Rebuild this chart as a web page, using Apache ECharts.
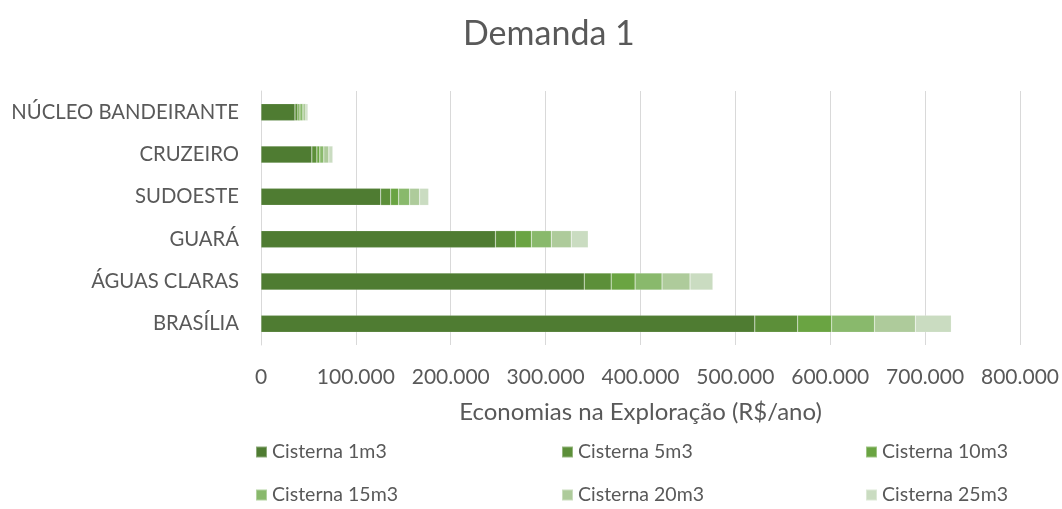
<!DOCTYPE html>
<html>
<head>
<meta charset="utf-8">
<script src="https://cdn.jsdelivr.net/npm/echarts@6/dist/echarts.min.js"></script>
<style>
  html, body { margin: 0; padding: 0; background: #fff; }
  #chart { width: 1062px; height: 509px; }
</style>
</head>
<body>
<div id="chart"></div>
<script>
// regiões (de baixo para cima, como o eixo de categorias do echarts)
const regioes = ['BRASÍLIA', 'ÁGUAS CLARAS', 'GUARÁ', 'SUDOESTE', 'CRUZEIRO', 'NÚCLEO BANDEIRANTE'];

// economias por cisterna (R$/ano)
const cisterna1 = [520500, 340700, 247100, 126200, 53600, 35800];
const cisterna5 = [45200, 28400, 21000, 10500, 5300, 3100];
const cisterna10 = [35800, 25200, 16900, 8400, 3100, 2100];
const cisterna15 = [45200, 28400, 21000, 11600, 4200, 3200];
const cisterna20 = [43100, 29500, 21000, 10500, 5300, 3100];
const cisterna25 = [37800, 24100, 17900, 9500, 4200, 2100];

const nomes = ['Cisterna 1m3', 'Cisterna 5m3', 'Cisterna 10m3', 'Cisterna 15m3', 'Cisterna 20m3', 'Cisterna 25m3'];
const valores = [cisterna1, cisterna5, cisterna10, cisterna15, cisterna20, cisterna25];
const cores = ['#4f7c32', '#5c8f39', '#6aa442', '#89b96c', '#aecb9b', '#cadcc1'];

const fonte = 'Lato, "Open Sans", sans-serif';
const cinza = '#595959';

// uma legenda por item, para alinhar em colunas como no excel
const posLegenda = [[250, 437], [556, 437], [860, 437], [250, 480], [556, 480], [860, 480]];
const legendas = nomes.map((n, i) => ({
    data: [n],
    left: posLegenda[i][0],
    top: posLegenda[i][1],
    itemWidth: 11,
    itemHeight: 11,
    itemGap: 4,
    icon: 'rect',
    textStyle: { color: cinza, fontSize: 19.5, fontFamily: fonte }
}));

const option = {
    animation: false,
    color: cores,
    title: {
        text: 'Demanda 1',
        left: 458,
        top: 12,
        textStyle: { color: cinza, fontSize: 34, fontWeight: 'normal', fontFamily: fonte }
    },
    legend: legendas,
    grid: { left: 261, right: 40, top: 91, bottom: 164 },
    xAxis: {
        type: 'value',
        min: 0,
        max: 800000,
        interval: 100000,
        name: 'Economias na Exploração (R$/ano)',
        nameLocation: 'middle',
        nameGap: 55,
        nameTextStyle: { color: cinza, fontSize: 24, fontFamily: fonte },
        axisLine: { show: false },
        axisTick: { show: false },
        splitLine: { lineStyle: { color: '#d9d9d9', width: 1 } },
        axisLabel: {
            color: cinza,
            fontSize: 21,
            fontFamily: fonte,
            margin: 22,
            formatter: v => v === 0 ? '0' : v.toString().replace(/\B(?=(\d{3})+(?!\d))/g, '.')
        }
    },
    yAxis: {
        type: 'category',
        data: regioes,
        axisLine: { show: true, lineStyle: { color: '#d9d9d9' } },
        axisTick: { show: false },
        axisLabel: { color: cinza, fontSize: 20.3, fontFamily: fonte, margin: 22 }
    },
    series: nomes.map((n, i) => ({
        name: n,
        type: 'bar',
        stack: 'total',
        barWidth: 17,
        data: valores[i],
        itemStyle: { borderColor: 'rgba(255,255,255,0.35)', borderWidth: 0.5 }
    }))
};

const chart = echarts.init(document.getElementById('chart'));
chart.setOption(option);
</script>
</body>
</html>
